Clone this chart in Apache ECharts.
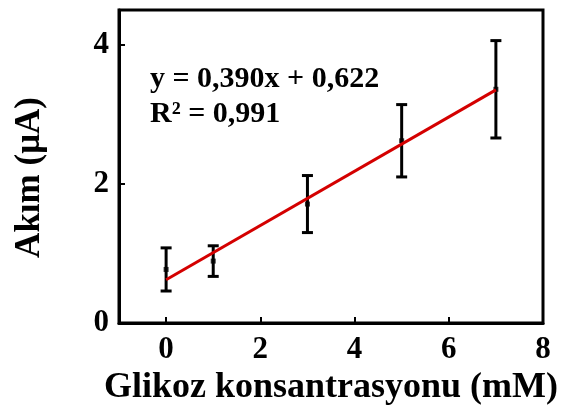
<!DOCTYPE html>
<html>
<head>
<meta charset="utf-8">
<script src="https://cdn.jsdelivr.net/npm/echarts@6/dist/echarts.min.js"></script>
<style>
  html, body { margin: 0; padding: 0; background: #fff; }
  #chart { width: 567px; height: 405px; }
</style>
</head>
<body>
<div id="chart"></div>
<script>
// Glucose concentration (mM) and measured current (µA) with standard deviation
const concentrations = [0, 1, 3, 5, 7];
const currents = [0.77, 0.89, 1.71, 2.62, 3.36];
const currentErrors = [0.31, 0.22, 0.41, 0.52, 0.70];

// Linear fit reported for the calibration
const slope = 0.390;
const intercept = 0.622;
const rSquared = '0,991';
const fitRange = [0, 7];

const xTicks = [0, 2, 4, 6, 8];
const yTicks = [0, 2, 4];

const FONT = '"Liberation Serif", "Times New Roman", serif';

const fitLine = fitRange.map(x => [x, slope * x + intercept]);
const errorData = concentrations.map((x, i) => [x, currents[i] - currentErrors[i], currents[i] + currentErrors[i]]);
const points = concentrations.map((x, i) => [x, currents[i]]);

const fmt = v => v.toFixed(3).replace('.', ',');

const chart = echarts.init(document.getElementById('chart'), null, { renderer: 'canvas' });

chart.setOption({
  animation: false,
  backgroundColor: '#fff',
  grid: {
    left: 119, right: 24, top: 10, bottom: 82,
    outerBoundsMode: 'none', containLabel: false,
    show: true, borderColor: '#000', borderWidth: 3
  },
  xAxis: {
    type: 'value', min: -1, max: 8,
    name: 'Glikoz konsantrasyonu (mM)', nameLocation: 'middle', nameGap: 38,
    nameTextStyle: { fontFamily: FONT, fontWeight: 'bold', fontSize: 36, color: '#000' },
    axisLine: { show: true, onZero: false, lineStyle: { color: '#000', width: 3 } },
    axisTick: { show: true, inside: true, length: 6, lineStyle: { color: '#000', width: 2 }, customValues: xTicks },
    axisLabel: { fontFamily: FONT, fontWeight: 'bold', fontSize: 31, color: '#000', margin: 11, customValues: xTicks },
    splitLine: { show: false }
  },
  yAxis: {
    type: 'value', min: 0, max: 4.5,
    name: 'Akım (μA)', nameLocation: 'middle', nameGap: 72, nameRotate: 90,
    nameTextStyle: { fontFamily: FONT, fontWeight: 'bold', fontSize: 35, color: '#000', padding: [0, 22, 0, 0] },
    axisLine: { show: true, onZero: false, lineStyle: { color: '#000', width: 3 } },
    axisTick: { show: true, inside: true, length: 6, lineStyle: { color: '#000', width: 2 }, customValues: yTicks },
    axisLabel: { fontFamily: FONT, fontWeight: 'bold', fontSize: 31, color: '#000', margin: 10, customValues: yTicks },
    splitLine: { show: false }
  },
  series: [
    {
      type: 'custom',
      name: 'error',
      data: errorData,
      z: 3,
      renderItem: function (params, api) {
        const x = api.value(0);
        const lo = api.coord([x, api.value(1)]);
        const hi = api.coord([x, api.value(2)]);
        const half = 5.5;
        const style = { stroke: '#000', lineWidth: 3 };
        return {
          type: 'group',
          children: [
            { type: 'line', shape: { x1: lo[0], y1: lo[1], x2: hi[0], y2: hi[1] }, style },
            { type: 'line', shape: { x1: hi[0] - half, y1: hi[1], x2: hi[0] + half, y2: hi[1] }, style },
            { type: 'line', shape: { x1: lo[0] - half, y1: lo[1], x2: lo[0] + half, y2: lo[1] }, style }
          ]
        };
      }
    },
    {
      type: 'scatter',
      data: points,
      symbol: 'rect',
      symbolSize: 5,
      itemStyle: { color: '#000' },
      z: 4
    },
    {
      type: 'line',
      data: fitLine,
      showSymbol: false,
      lineStyle: { color: '#d40000', width: 3 },
      z: 5
    }
  ],
  graphic: [
    {
      type: 'text', left: 150, top: 64,
      style: { text: 'y = ' + fmt(slope) + 'x + ' + fmt(intercept), fontFamily: FONT, fontWeight: 'bold', fontSize: 30, fill: '#000' }
    },
    {
      type: 'text', left: 150, top: 99,
      style: { text: 'R² = ' + rSquared, fontFamily: FONT, fontWeight: 'bold', fontSize: 30, fill: '#000' }
    }
  ]
});
</script>
</body>
</html>
